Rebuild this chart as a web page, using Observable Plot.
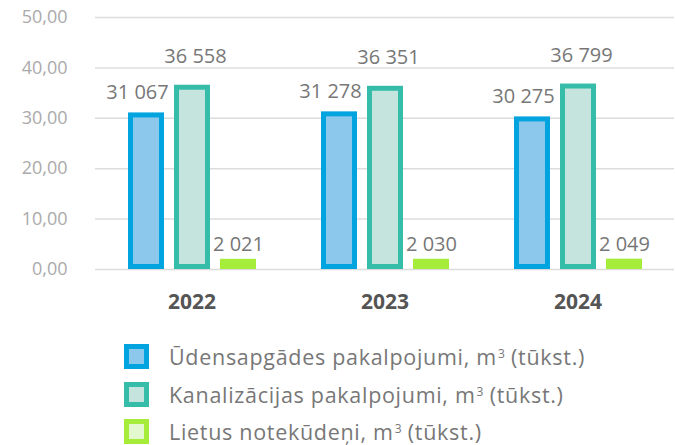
<!DOCTYPE html>
<html><head><meta charset="utf-8">
<script src="https://cdn.jsdelivr.net/npm/d3@7"></script>
<script src="https://cdn.jsdelivr.net/npm/@observablehq/plot@0.6"></script>
<style>
body{margin:0;background:#fff;font-family:"Open Sans",sans-serif;}
#legend{margin:8px 0 0 124px;}
.row{display:flex;align-items:center;height:37.5px;}
.box{width:15px;height:15px;border:5px solid;margin-right:20px;flex:none;}
.lab{font-size:21.5px;letter-spacing:0.7px;color:#777;white-space:nowrap;line-height:1;}
.sup{font-size:12px;vertical-align:7px;letter-spacing:0;margin-left:1px;}
</style></head><body><div id="chart"></div><div id="legend"></div>
<script>
const years = ["2022", "2023", "2024"];
const seriesNames = [
  "Ūdensapgādes pakalpojumi, m³ (tūkst.)",
  "Kanalizācijas pakalpojumi, m³ (tūkst.)",
  "Lietus notekūdeņi, m³ (tūkst.)"
];
const water = [31.067, 31.278, 30.275];
const sewer = [36.558, 36.351, 36.799];
const rain = [2.021, 2.030, 2.049];
const yTicks = [0, 10, 20, 30, 40, 50];
const strokes = ["#02a4e0", "#35bda9", "#a5ec3b"];
const fills = ["#8cc8ec", "#c5e4de", "#a5ec3b"];
const legendFills = ["#8cc8ec", "#c5e4de", "#e3f8cf"];

const seriesValues = [water, sewer, rain];
const data = [];
seriesNames.forEach((s, i) => years.forEach((y, j) => data.push({
  series: s, year: y, value: seriesValues[i][j],
  label: d3.format(",")(Math.round(seriesValues[i][j] * 1000)).replace(/,/g, " ")
})));
const commaFmt = d => d3.format(".2f")(d).replace(".", ",");
const colorScale = {domain: seriesNames, range: fills, type: "ordinal"};

const labelText = (s, dx, dy) => Plot.text(data.filter(d => d.series === s), {
  fx: "year", x: "series", y: "value", text: "label",
  dx, dy, lineAnchor: "bottom", fontSize: 20, fill: "#777"
});

const chart = Plot.plot({
  width: 675, height: 330,
  marginTop: 17, marginBottom: 61, marginLeft: 94, marginRight: 0,
  style: {fontFamily: "Open Sans", background: "#fff", overflow: "visible"},
  fx: {domain: years, padding: 0, label: null},
  x: {domain: seriesNames, paddingInner: 0.226, paddingOuter: 0.667, axis: null},
  y: {domain: [0, 50], axis: null},
  color: colorScale,
  marks: [
    Plot.gridY(yTicks, {stroke: "#dcdcdc", strokeOpacity: 1, strokeWidth: 1.5}),
    Plot.axisY({ticks: yTicks, tickSize: 0, tickPadding: 28, tickFormat: commaFmt,
      fontSize: 18, color: "#aaa", label: null}),
    Plot.axisFx({anchor: "bottom", tickSize: 0, tickPadding: 25, fontSize: 21,
      fontWeight: "bold", color: "#555", label: null}),
    Plot.barY(data.filter(d => d.series !== seriesNames[2]), {
      fx: "year", x: "series", y: "value", fill: "series",
      stroke: d => strokes[seriesNames.indexOf(d.series)], strokeWidth: 5,
      inset: 2.5
    }),
    Plot.barY(data.filter(d => d.series === seriesNames[2]), {
      fx: "year", x: "series", y: "value", fill: "series", inset: 0
    }),
    labelText(seriesNames[0], -9, -13.5),
    labelText(seriesNames[1], 3, -22.5),
    labelText(seriesNames[2], 0, -8)
  ]
});
document.getElementById("chart").append(chart);

const legend = document.getElementById("legend");
seriesNames.forEach((s, i) => {
  const row = document.createElement("div"); row.className = "row";
  const box = document.createElement("div"); box.className = "box";
  box.style.borderColor = strokes[i]; box.style.background = legendFills[i];
  const lab = document.createElement("span"); lab.className = "lab";
  const parts = s.split("³");
  lab.append(parts[0]);
  const sup = document.createElement("span"); sup.className = "sup"; sup.textContent = "3";
  lab.append(sup, parts[1]);
  row.append(box, lab); legend.append(row);
});
</script></body></html>
